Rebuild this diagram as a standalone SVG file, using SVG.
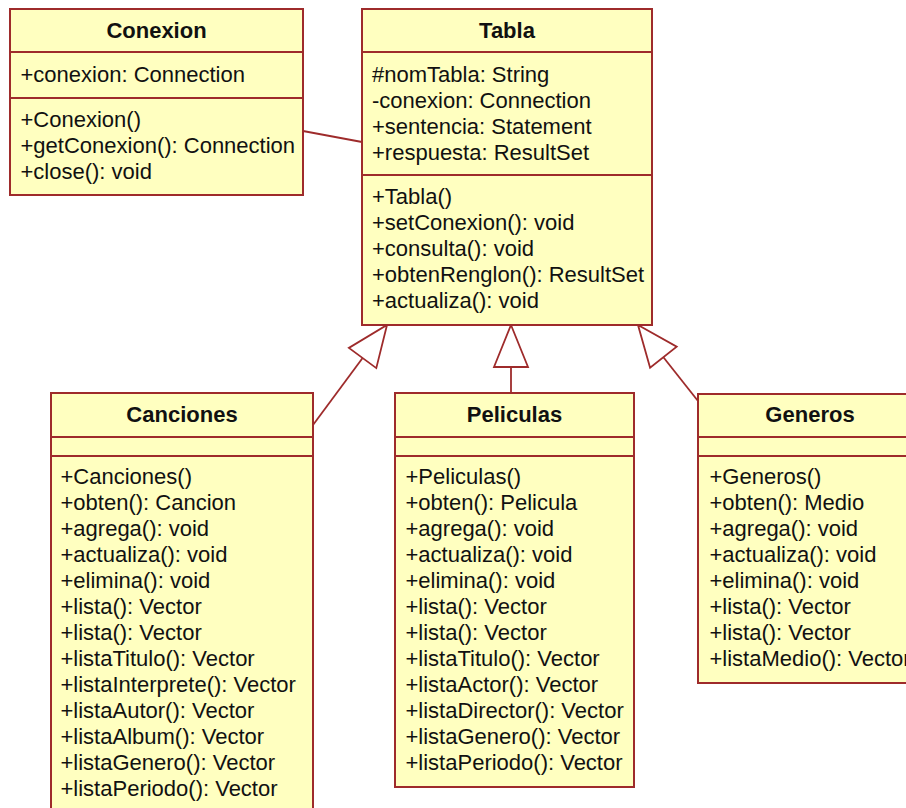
<svg xmlns="http://www.w3.org/2000/svg" width="906" height="808" viewBox="0 0 906 808">
<style>
.box{fill:#FFFFC0;stroke:#9E2B2B;stroke-width:2}
.sep{stroke:#9E2B2B;stroke-width:2}
.t{font-family:"Liberation Sans",Arial,sans-serif;font-size:22px;fill:#111}
.h{font-family:"Liberation Sans",Arial,sans-serif;font-size:22px;font-weight:bold;fill:#111;text-anchor:middle}
.edge{stroke:#9E2B2B;stroke-width:1.8;fill:none}
.tri{fill:#FFFFFF;stroke:#9E2B2B;stroke-width:1.8}
</style>
<rect width="906" height="808" fill="#FFFFFF"/>
<g id="connectors">
<line class="edge" x1="303" y1="131" x2="362" y2="142"/>
<line class="edge" x1="313" y1="425" x2="362.6" y2="358"/>
<polygon class="tri" points="387,325 376.3,368.1 348.9,347.9"/>
<line class="edge" x1="511" y1="367" x2="511" y2="393"/>
<polygon class="tri" points="511,325 528,367 494,367"/>
<line class="edge" x1="698" y1="401" x2="663.4" y2="357.2"/>
<polygon class="tri" points="638,325 676.7,346.7 650.1,367.7"/>
</g>
<g id="Conexion">
<rect class="box" x="10" y="9" width="293" height="186"/>
<line class="sep" x1="10" y1="52" x2="303" y2="52"/>
<line class="sep" x1="10" y1="98" x2="303" y2="98"/>
<text class="h" x="156.5" y="38">Conexion</text>
<text class="t" x="20.5" y="82">+conexion: Connection</text>
<text class="t" x="20.5" y="127">+Conexion()</text>
<text class="t" x="20.5" y="153">+getConexion(): Connection</text>
<text class="t" x="20.5" y="179">+close(): void</text>
</g>
<g id="Tabla">
<rect class="box" x="362" y="9" width="290" height="316"/>
<line class="sep" x1="362" y1="52" x2="652" y2="52"/>
<line class="sep" x1="362" y1="175" x2="652" y2="175"/>
<text class="h" x="507" y="38">Tabla</text>
<text class="t" x="372" y="82">#nomTabla: String</text>
<text class="t" x="372" y="108">-conexion: Connection</text>
<text class="t" x="372" y="134">+sentencia: Statement</text>
<text class="t" x="372" y="160">+respuesta: ResultSet</text>
<text class="t" x="372" y="204">+Tabla()</text>
<text class="t" x="372" y="230">+setConexion(): void</text>
<text class="t" x="372" y="256">+consulta(): void</text>
<text class="t" x="372" y="282">+obtenRenglon(): ResultSet</text>
<text class="t" x="372" y="308">+actualiza(): void</text>
</g>
<g id="Canciones">
<rect class="box" x="51" y="393" width="262" height="430"/>
<line class="sep" x1="51" y1="437" x2="313" y2="437"/>
<line class="sep" x1="51" y1="456" x2="313" y2="456"/>
<text class="h" x="182" y="422">Canciones</text>
<text class="t" x="60.5" y="484">+Canciones()</text>
<text class="t" x="60.5" y="510">+obten(): Cancion</text>
<text class="t" x="60.5" y="536">+agrega(): void</text>
<text class="t" x="60.5" y="562">+actualiza(): void</text>
<text class="t" x="60.5" y="588">+elimina(): void</text>
<text class="t" x="60.5" y="614">+lista(): Vector</text>
<text class="t" x="60.5" y="640">+lista(): Vector</text>
<text class="t" x="60.5" y="666">+listaTitulo(): Vector</text>
<text class="t" x="60.5" y="692">+listaInterprete(): Vector</text>
<text class="t" x="60.5" y="718">+listaAutor(): Vector</text>
<text class="t" x="60.5" y="744">+listaAlbum(): Vector</text>
<text class="t" x="60.5" y="770">+listaGenero(): Vector</text>
<text class="t" x="60.5" y="796">+listaPeriodo(): Vector</text>
</g>
<g id="Peliculas">
<rect class="box" x="395" y="393" width="239" height="394"/>
<line class="sep" x1="395" y1="437" x2="634" y2="437"/>
<line class="sep" x1="395" y1="456" x2="634" y2="456"/>
<text class="h" x="514.5" y="422">Peliculas</text>
<text class="t" x="405.5" y="484">+Peliculas()</text>
<text class="t" x="405.5" y="510">+obten(): Pelicula</text>
<text class="t" x="405.5" y="536">+agrega(): void</text>
<text class="t" x="405.5" y="562">+actualiza(): void</text>
<text class="t" x="405.5" y="588">+elimina(): void</text>
<text class="t" x="405.5" y="614">+lista(): Vector</text>
<text class="t" x="405.5" y="640">+lista(): Vector</text>
<text class="t" x="405.5" y="666">+listaTitulo(): Vector</text>
<text class="t" x="405.5" y="692">+listaActor(): Vector</text>
<text class="t" x="405.5" y="718">+listaDirector(): Vector</text>
<text class="t" x="405.5" y="744">+listaGenero(): Vector</text>
<text class="t" x="405.5" y="770">+listaPeriodo(): Vector</text>
</g>
<g id="Generos">
<rect class="box" x="698" y="394" width="224" height="289"/>
<line class="sep" x1="698" y1="437" x2="922" y2="437"/>
<line class="sep" x1="698" y1="456" x2="922" y2="456"/>
<text class="h" x="810" y="422">Generos</text>
<text class="t" x="709.5" y="484">+Generos()</text>
<text class="t" x="709.5" y="510">+obten(): Medio</text>
<text class="t" x="709.5" y="536">+agrega(): void</text>
<text class="t" x="709.5" y="562">+actualiza(): void</text>
<text class="t" x="709.5" y="588">+elimina(): void</text>
<text class="t" x="709.5" y="614">+lista(): Vector</text>
<text class="t" x="709.5" y="640">+lista(): Vector</text>
<text class="t" x="709.5" y="666">+listaMedio(): Vector</text>
</g>
</svg>
